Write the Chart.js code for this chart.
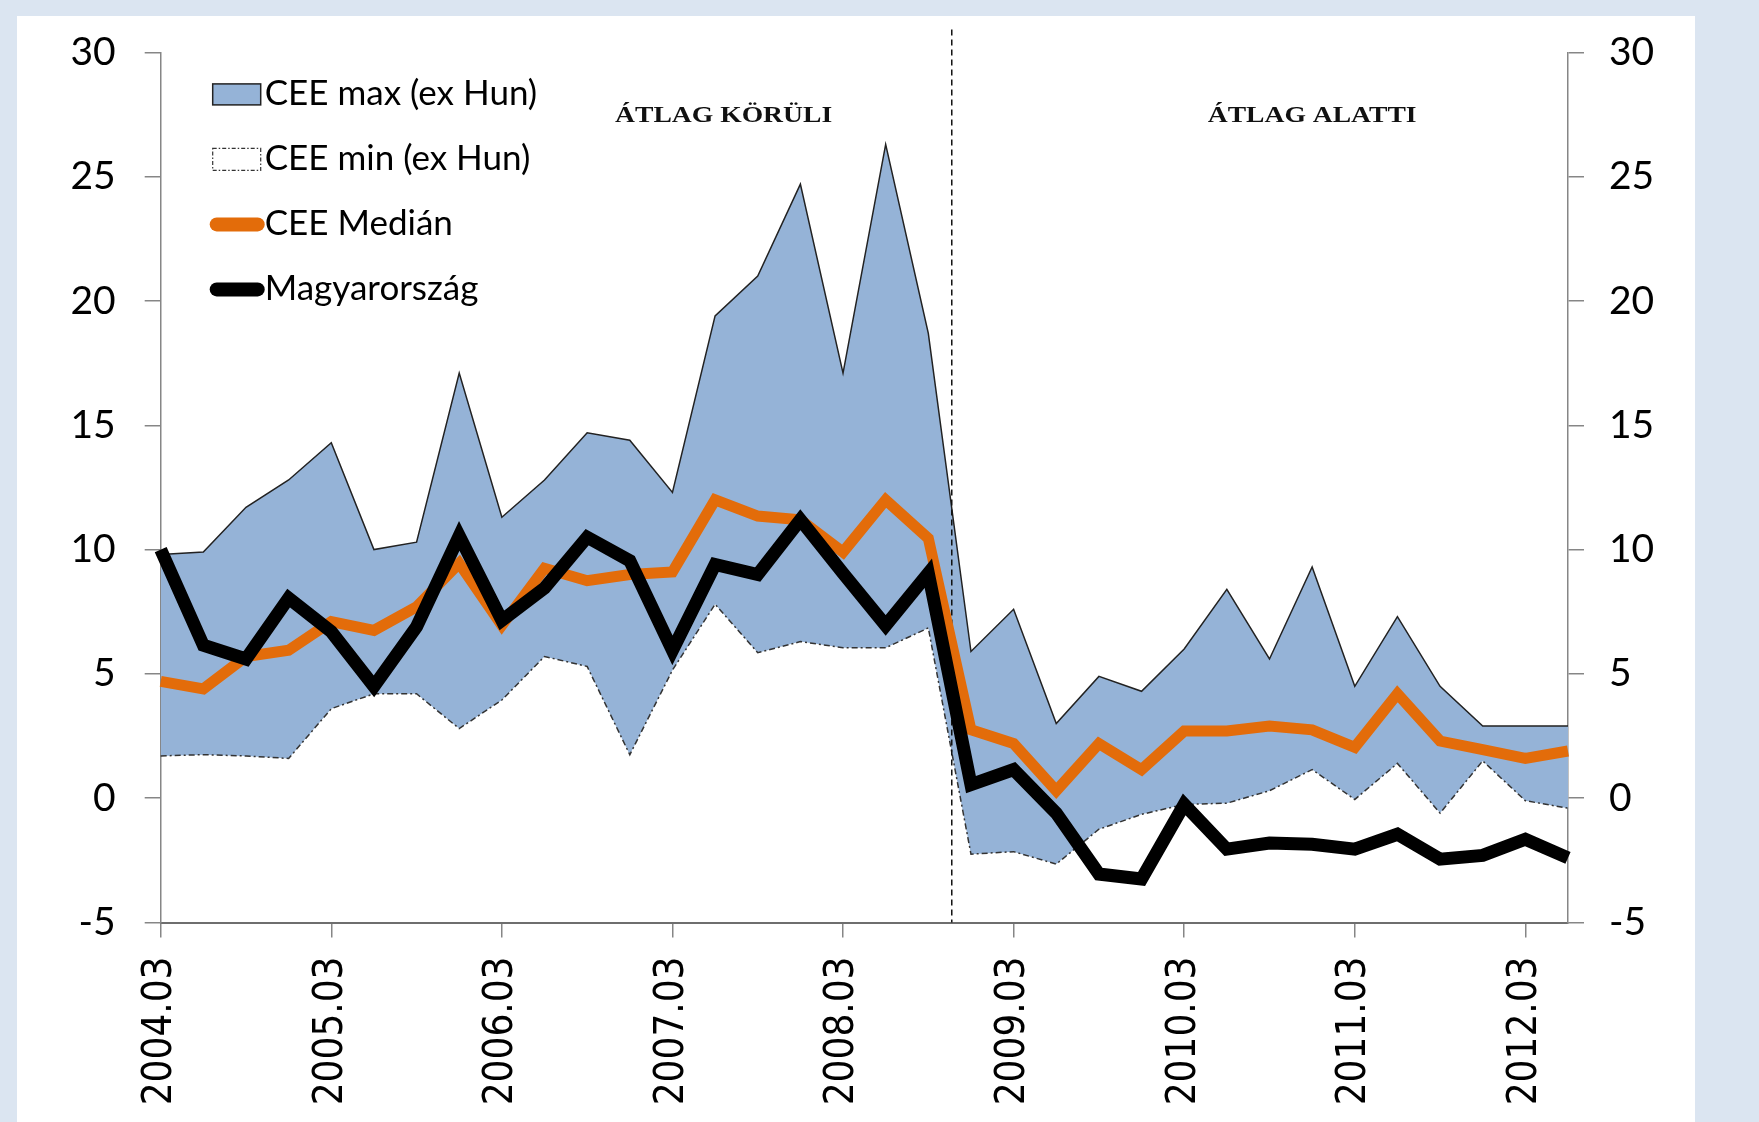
<!DOCTYPE html>
<html>
<head>
<meta charset="utf-8">
<script src="https://cdn.jsdelivr.net/npm/chart.js@4.4.1/dist/chart.umd.min.js"></script>
<style>
  html, body { margin: 0; padding: 0; }
  body { width: 1759px; height: 1122px; background: #dbe5f1; position: relative; overflow: hidden; }
  #panel { position: absolute; left: 17px; top: 16px; width: 1678px; height: 1106px; background: #fff; }
  #wrap { position: absolute; left: 0; top: 0; width: 1759px; height: 1122px; }
</style>
</head>
<body>
<div id="panel"></div>
<div id="wrap"><canvas id="chart"></canvas></div>
<script>
// quarterly observations, 2004 Q1 .. 2012 Q2
const quarters = [
  "2004.03", "2004.06", "2004.09", "2004.12",
  "2005.03", "2005.06", "2005.09", "2005.12",
  "2006.03", "2006.06", "2006.09", "2006.12",
  "2007.03", "2007.06", "2007.09", "2007.12",
  "2008.03", "2008.06", "2008.09", "2008.12",
  "2009.03", "2009.06", "2009.09", "2009.12",
  "2010.03", "2010.06", "2010.09", "2010.12",
  "2011.03", "2011.06", "2011.09", "2011.12",
  "2012.03", "2012.06",
];

const ceeMax = [
  9.8, 9.9, 11.7, 12.8, 14.3, 10.0, 10.3, 17.1,
  11.3, 12.8, 14.7, 14.4, 12.3, 19.4, 21.0, 24.7,
  17.1, 26.3, 18.7, 5.9, 7.6, 3.0, 4.9, 4.3,
  6.0, 8.4, 5.6, 9.3, 4.5, 7.3, 4.5, 2.9, 2.9, 2.9,
];

const ceeMin = [
  1.7, 1.75, 1.7, 1.6, 3.6, 4.2, 4.2, 2.8,
  3.95, 5.7, 5.3, 1.75, 5.15, 7.8, 5.85, 6.3,
  6.05, 6.05, 6.85, -2.25, -2.15, -2.65, -1.25, -0.65,
  -0.25, -0.2, 0.3, 1.15, -0.05, 1.4, -0.6, 1.5, -0.1, -0.4,
];

const ceeMedian = [
  4.7, 4.4, 5.7, 5.95, 7.1, 6.75, 7.7, 9.45,
  6.95, 9.25, 8.75, 9.0, 9.1, 12.0, 11.35, 11.2,
  9.9, 12.0, 10.45, 2.75, 2.2, 0.3, 2.2, 1.15,
  2.7, 2.7, 2.9, 2.75, 2.05, 4.2, 2.3, 1.95, 1.6, 1.9,
];

const hungary = [
  10.0, 6.15, 5.6, 8.05, 6.7, 4.5, 6.9, 10.55,
  7.15, 8.45, 10.5, 9.55, 5.95, 9.4, 9.0, 11.2,
  9.05, 6.95, 9.05, 0.55, 1.15, -0.6, -3.05, -3.25,
  -0.25, -2.05, -1.8, -1.85, -2.05, -1.45, -2.45, -2.3, -1.65, -2.4,
];

const yTicks = { min: -5, max: 30, step: 5 };

// regime split (between 2008.09 and 2008.12) and the two region captions
const regimeBreak = 18.55;
const regimeLabels = ["ÁTLAG KÖRÜLI", "ÁTLAG ALATTI"];
const regimeLabelAt = [13.2, 27.0];

const axisGrey = "#868686";

const regimePlugin = {
  id: "regimes",
  beforeDatasetDraw(chart, args) {
    // draw the split line once the band is filled, under the two thick lines
    if (args.index !== 1) return;
    const ctx = chart.ctx;
    const x = chart.scales.x.getPixelForValue(regimeBreak);
    ctx.save();
    ctx.strokeStyle = "#111";
    ctx.lineWidth = 1.5;
    ctx.setLineDash([6, 4]);
    ctx.beginPath();
    ctx.moveTo(x, chart.chartArea.top - 23);
    ctx.lineTo(x, chart.chartArea.bottom);
    ctx.stroke();
    ctx.restore();
  },
  afterDraw(chart) {
    const ctx = chart.ctx;
    const y = chart.scales.y.getPixelForValue(27.2);
    ctx.save();
    ctx.fillStyle = "#111";
    ctx.font = 'bold 24px "Liberation Serif", "Times New Roman", serif';
    ctx.textAlign = "center";
    ctx.textBaseline = "alphabetic";
    regimeLabels.forEach((txt, i) => {
      const x = chart.scales.x.getPixelForValue(regimeLabelAt[i]);
      ctx.save();
      ctx.translate(x, y);
      ctx.scale(1.15, 1);
      ctx.fillText(txt, 0, 0);
      ctx.restore();
    });
    ctx.restore();
  },
};

const legendPlugin = {
  id: "boxLegend",
  afterDraw(chart) {
    const ctx = chart.ctx;
    const left = chart.chartArea.left + 52;
    let y = chart.chartArea.top + 42;
    const order = [2, 3, 1, 0];
    order.forEach((i) => {
      const ds = chart.data.datasets[i];
      ctx.save();
      if (ds.fill) {
        ctx.fillStyle = ds.backgroundColor;
        ctx.fillRect(left, y - 10.5, 48, 21);
        ctx.strokeStyle = "#222";
        ctx.lineWidth = 1.5;
        ctx.strokeRect(left, y - 10.5, 48, 21);
      } else if (ds.borderDash) {
        ctx.strokeStyle = "#333";
        ctx.lineWidth = 1.2;
        ctx.setLineDash([4, 2, 1.5, 2]);
        ctx.strokeRect(left, y - 11, 48, 22);
      } else {
        ctx.strokeStyle = ds.borderColor;
        ctx.lineWidth = 14;
        ctx.lineCap = "round";
        ctx.beginPath();
        ctx.moveTo(left + 4, y);
        ctx.lineTo(left + 45, y);
        ctx.stroke();
      }
      ctx.setLineDash([]);
      ctx.fillStyle = "#000";
      ctx.font = "35px Lato";
      ctx.textAlign = "left";
      ctx.textBaseline = "alphabetic";
      ctx.fillText(ds.label, left + 52, y + 11);
      ctx.restore();
      y += 65;
    });
  },
};

function yAxis(position, width, padding) {
  return {
    position: position,
    min: yTicks.min,
    max: yTicks.max,
    ticks: {
      stepSize: yTicks.step,
      color: "#000",
      padding: padding,
      font: { family: "Lato", size: 39 },
    },
    grid: {
      drawOnChartArea: false,
      drawTicks: true,
      tickLength: 16,
      color: axisGrey,
      lineWidth: 1.5,
    },
    border: { color: axisGrey, width: 1.5 },
    afterFit: (scale) => {
      scale.width = width;
    },
  };
}

function draw() {
  const ctx = document.getElementById("chart").getContext("2d");
  new Chart(ctx, {
    type: "line",
    plugins: [regimePlugin, legendPlugin],
    options: {
      responsive: true,
      maintainAspectRatio: false,
      animation: false,
      layout: { padding: { top: 48, left: 0, right: 0, bottom: 0 } },
      elements: { point: { radius: 0 }, line: { tension: 0 } },
      plugins: {
        legend: { display: false },
        tooltip: { enabled: false },
      },
      scales: {
        x: {
          type: "category",
          offset: false,
          ticks: {
            autoSkip: false,
            minRotation: 90,
            maxRotation: 90,
            padding: 19,
            color: "#000",
            font: { family: "'DejaVu Sans Condensed', 'DejaVu Sans', sans-serif", size: 40 },
            callback: function (value, index) {
              return index % 4 === 0 ? this.getLabelForValue(value) : null;
            },
          },
          grid: {
            drawOnChartArea: false,
            tickLength: 15,
            color: axisGrey,
            lineWidth: 1.5,
            offset: false,
          },
          border: { color: "#6e6e6e", width: 2 },
          afterFit: (scale) => {
            scale.height = 199.5;
          },
        },
        y: yAxis("left", 160.7, 29),
        y2: yAxis("right", 191, 25),
      },
    },
    data: {
      labels: quarters,
      datasets: [
        {
          label: "Magyarország",
          data: hungary,
          borderColor: "#000000",
          borderWidth: 13,
          borderJoinStyle: "miter",
          fill: false,
          order: 0,
        },
        {
          label: "CEE Medián",
          data: ceeMedian,
          borderColor: "#e36c0a",
          borderWidth: 11,
          borderJoinStyle: "miter",
          fill: false,
          order: 1,
        },
        {
          label: "CEE max (ex Hun)",
          data: ceeMax,
          borderColor: "#222222",
          borderWidth: 1.5,
          backgroundColor: "#95b3d7",
          fill: "+1",
          order: 3,
        },
        {
          label: "CEE min (ex Hun)",
          data: ceeMin,
          borderColor: "#333333",
          borderWidth: 1.5,
          borderDash: [6, 3, 2, 3],
          fill: false,
          order: 2,
        },
      ],
    },
  });
}

Promise.all([
  document.fonts.load("39px Lato"),
  document.fonts.load('bold 24px "Liberation Serif"'),
  document.fonts.load("40px 'DejaVu Sans Condensed'"),
]).then(draw, draw);
</script>
</body>
</html>
